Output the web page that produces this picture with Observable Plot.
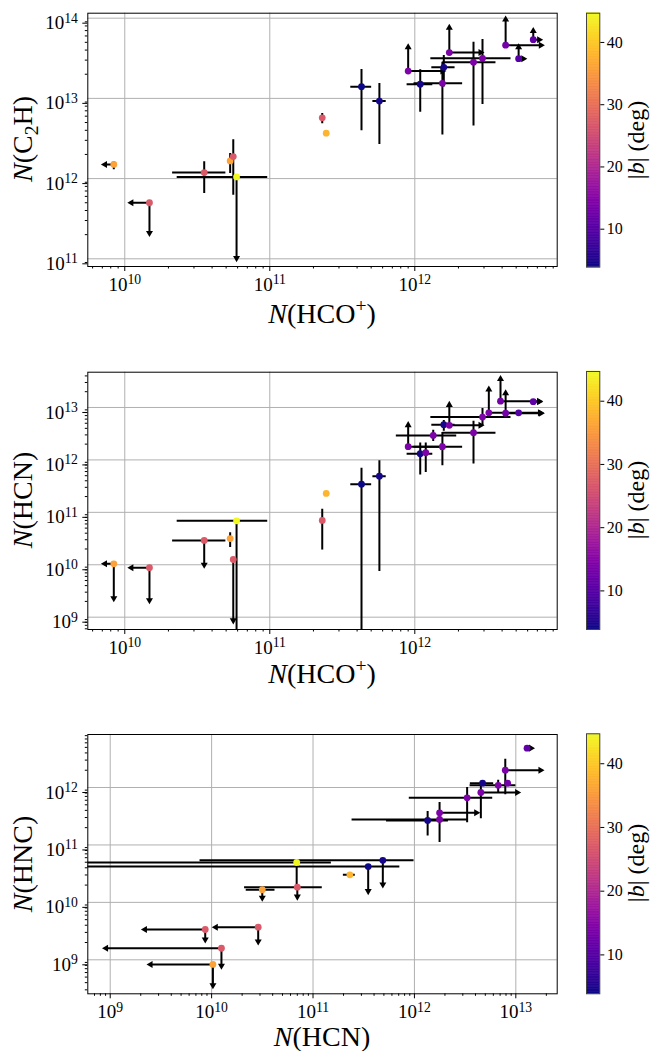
<!DOCTYPE html>
<html><head><meta charset="utf-8">
<script src="https://cdn.jsdelivr.net/npm/d3@7"></script>
<script src="https://cdn.jsdelivr.net/npm/@observablehq/plot@0.6"></script>
<style>
body{margin:0;background:#fff;}
#root{position:relative;width:650px;height:1051px;font-family:"Liberation Serif","Times New Roman",serif;overflow:hidden;}
.svgbox{position:absolute;}
.lab{position:absolute;white-space:nowrap;line-height:0.85;color:#000;}
.lab sub{font-size:0.7em;vertical-align:-0.3em;line-height:0;}
.lab sup{font-size:0.7em;vertical-align:0.55em;line-height:0;}
</style></head><body><div id="root"></div>
<script>
// |b| colour range (deg)
const bDomain = [3.9, 44.7];
const cbTicks = [10, 20, 30, 40];

// ---------- Panel 1: N(HCO+) vs N(C2H) ----------
const p1X = [8.4e9, 1.48e10, 3.53e10, 5.33e10, 5.6e10, 5.9e10, 2.30e11, 2.45e11, 4.29e11, 5.70e11, 9.0e11, 1.09e12, 1.585e12, 1.55e12, 1.73e12, 2.54e12, 2.93e12, 4.23e12, 5.2e12, 6.56e12];
const p1Y = [1.5e12, 5.0e11, 1.19e12, 1.66e12, 1.88e12, 1.05e12, 5.72e12, 3.68e12, 1.40e13, 9.25e12, 2.19e13, 1.50e13, 2.44e13, 1.54e13, 3.72e13, 2.82e13, 3.16e13, 4.6e13, 3.13e13, 5.4e13];
const p1B = [36, 27, 27, 36, 27, 44.7, 27, 38, 4, 4.5, 14, 4.5, 4.5, 14, 14, 14, 14, 13, 10, 11];
const p1XErr = [null, null, [2.12e10,4.94e10], null, null, [2.28e10,9.6e10], null, null, [3.59e11,5.0e11], [5.1e11,6.3e11], null, [8.78e11,1.32e12], [1.30e12,1.88e12], [9.8e11,2.12e12], null, [1.55e12,3.6e12], [1.28e12,4.57e12], null, null, null];
const p1YErr = [[1.31e12,1.64e12], null, [6.6e11,1.64e12], [1.17e12,2.09e12], [6.3e11,3.09e12], null, [4.9e12,6.55e12], null, [4.0e12,2.32e13], [2.7e12,1.55e13], null, [6.8e12,2.30e13], [1.41e13,3.47e13], [3.55e12,2.87e13], null, [4.6e12,5.1e13], [8.5e12,5.5e13], null, null, null];
const p1XLim = [7.3e9, 1.11e10, null, null, null, null, null, null, null, null, 1.55e12, null, null, null, 2.84e12, null, null, 7.4e12, 5.6e12, 7.2e12];
const p1YLim = [null, 2.1e11, null, null, null, 1.02e11, null, null, null, null, 4.34e13, null, null, null, 7.6e13, null, null, 9.6e13, 4.35e13, 6.9e13];

// ---------- Panel 2: N(HCO+) vs N(HCN) ----------
const p2X = [8.4e9, 1.48e10, 3.53e10, 5.33e10, 5.6e10, 5.9e10, 2.30e11, 2.45e11, 4.29e11, 5.70e11, 9.0e11, 1.09e12, 1.19e12, 1.34e12, 1.55e12, 1.585e12, 1.73e12, 2.54e12, 2.93e12, 3.24e12, 3.9e12, 4.23e12, 5.2e12, 6.56e12];
const p2Y = [1.04e10, 8.8e9, 2.91e10, 3.16e10, 1.26e10, 6.9e10, 7.0e10, 2.29e11, 3.45e11, 4.9e11, 1.79e12, 1.31e12, 1.37e12, 2.93e12, 1.79e12, 4.7e12, 4.57e12, 3.3e12, 6.56e12, 7.9e12, 1.32e13, 7.8e12, 7.9e12, 1.29e13];
const p2B = [36, 27, 27, 36, 27, 44.7, 27, 38, 4, 4.5, 14, 4.5, 14, 14, 14, 4.5, 14, 14, 14, 14, 13, 13, 10, 11];
const p2XErr = [null, null, [2.12e10,4.94e10], null, null, [2.28e10,9.6e10], null, null, [3.59e11,5.0e11], [5.1e11,6.3e11], null, [8.78e11,1.32e12], null, [7.4e11,1.93e12], [9.8e11,2.12e12], [1.30e12,1.88e12], null, [1.55e12,3.6e12], [1.28e12,4.57e12], null, null, null, null, null];
const p2YErr = [null, null, null, [2.17e10,4.17e10], null, [1e8,6.9e10], [1.95e10,1.17e11], null, [1e8,7.1e11], [7.6e9,9.8e11], null, [5.25e11,2.14e12], [5.9e11,2.14e12], [2.29e12,3.76e12], [7.9e11,3.4e12], [3.6e12,5.8e12], null, [8.5e11,5.6e12], [4.57e12,9.8e12], null, null, null, null, null];
const p2XLim = [7.3e9, 1.11e10, null, null, null, null, null, null, null, null, 1.55e12, null, null, null, null, null, 2.84e12, null, null, 7.3e12, 7.2e12, 7.4e12, null, 7.2e12];
const p2YLim = [2.3e9, 2.1e9, 1.0e10, null, 8.7e8, null, null, null, null, null, 4.6e12, null, null, null, null, null, 1.12e13, null, null, 2.2e13, 3.5e13, 1.86e13, null, null];

// ---------- Panel 3: N(HCN) vs N(HNC) ----------
const p3X = [6.9e10, 7.0e10, 3.16e10, 8.65e9, 2.88e10, 1.25e10, 1.03e10, 2.31e11, 3.5e11, 4.88e11, 1.35e12, 1.77e12, 1.77e12, 3.31e12, 4.52e12, 4.7e12, 6.7e12, 7.87e12, 8.3e12, 1.29e13];
const p3Y = [4.95e10, 1.84e10, 1.66e10, 3.37e9, 3.7e9, 1.59e9, 8.3e8, 3.02e10, 4.2e10, 5.4e10, 2.67e11, 3.63e11, 2.78e11, 6.6e11, 8.2e11, 1.19e12, 1.09e12, 2.0e12, 1.19e12, 4.85e12];
const p3B = [44.7, 27, 36, 27, 27, 27, 36, 38, 4, 4.5, 4.5, 14, 14, 14, 14, 4.5, 14, 14, 13, 11];
const p3XErr = [[1e8,1.5e11], [2.09e10,1.22e11], [2.17e10,4.17e10], null, null, null, null, [1.97e11,2.58e11], [1e8,7.1e11], [7.6e9,9.8e11], [5.25e11,2.14e12], null, [2.4e11,3.3e12], [8.8e11,5.85e12], null, [3.52e12,5.98e12], [3.5e12,9.9e12], null, null, null];
const p3YErr = [[1.87e10,4.95e10], null, null, null, null, null, null, null, null, null, [1.46e11,3.89e11], null, [1.12e11,5.6e11], [2.49e11,1.02e12], [2.93e11,1.24e12], null, [8.0e11,1.37e12], [7.6e11,3.16e12], null, null];
const p3XLim = [null, null, null, 2.2e9, 1.1e10, 9.1e8, 2.5e9, null, null, null, null, 4.07e12, null, null, 1.03e13, null, null, 1.75e13, null, 1.41e13];
const p3YLim = [null, 1.26e10, 1.2e10, 2.26e9, 2.08e9, 7.9e8, 3.6e8, null, 1.57e10, 2.05e10, null, null, null, null, null, null, null, null, null, null];

// axis domains (log10) and major ticks (exponents)
const p1XDom = [9.745, 12.982], p1YDom = [10.904, 14.062];
const p2XDom = [9.745, 12.982], p2YDom = [8.765, 13.673];
const p3XDom = [8.779, 13.408], p3YDom = [8.408, 12.923];
const p1XExp = [10, 11, 12], p1YExp = [11, 12, 13, 14];
const p2XExp = [10, 11, 12], p2YExp = [9, 10, 11, 12, 13];
const p3XExp = [9, 10, 11, 12, 13], p3YExp = [9, 10, 11, 12];

const root = document.getElementById("root");
const SVGNS = "http://www.w3.org/2000/svg";
const FONT = "'Liberation Serif', 'Times New Roman', serif";

function minorTicks(dom) {
  const out = [];
  for (let e = Math.floor(dom[0]); e <= Math.ceil(dom[1]); e++)
    for (let m = 2; m <= 9; m++) {
      const v = m * Math.pow(10, e);
      if (Math.log10(v) >= dom[0] && Math.log10(v) <= dom[1]) out.push(v);
    }
  return out;
}
function superscriptTicks(svg) {
  svg.querySelectorAll("text").forEach(t => {
    const m = /^10\|(-?\d+)$/.exec(t.textContent);
    if (m) {
      t.textContent = "10";
      const ts = document.createElementNS(SVGNS, "tspan");
      ts.setAttribute("dy", "-0.48em");
      ts.setAttribute("font-size", "0.72em");
      ts.textContent = m[1];
      t.appendChild(ts);
    }
  });
}
function place(node, left, top) {
  const w = document.createElement("div");
  w.className = "svgbox";
  w.style.left = left + "px"; w.style.top = top + "px";
  w.appendChild(node);
  root.appendChild(w);
}
function label(html, cx, cy, rot, size) {
  const d = document.createElement("div");
  d.className = "lab";
  d.innerHTML = html;
  d.style.left = cx + "px"; d.style.top = cy + "px";
  d.style.fontSize = size + "px";
  d.style.transform = "translate(-50%,-50%)" + (rot ? " rotate(-90deg)" : "");
  root.appendChild(d);
}

const FRAME_L = 87.3, FRAME_R = 556.7;
const CB_L = 586, CB_W = 13.3;

function panel(o) {
  const pts = o.X.map((x, i) => ({x, y: o.Y[i], b: o.B[i]}));
  const xe = [], ye = [], lim = [], heads = [];
  o.X.forEach((x, i) => {
    const y = o.Y[i];
    if (o.XE[i]) xe.push({x1: o.XE[i][0], x2: o.XE[i][1], y1: y, y2: y});
    if (o.YE[i]) ye.push({x1: x, x2: x, y1: o.YE[i][0], y2: o.YE[i][1]});
    if (o.XL[i] != null) { lim.push({x1: x, x2: o.XL[i], y1: y, y2: y}); heads.push({x: o.XL[i], y, rot: o.XL[i] < x ? -90 : 90}); }
    if (o.YL[i] != null) { lim.push({x1: x, x2: x, y1: y, y2: o.YL[i]}); heads.push({x, y: o.YL[i], rot: o.YL[i] < y ? 180 : 0}); }
  });
  const fmt = d => "10|" + Math.round(Math.log10(d));
  const xMaj = o.xExp.map(e => Math.pow(10, e)), yMaj = o.yExp.map(e => Math.pow(10, e));
  const svg = Plot.plot({
    width: 650, height: o.svgH,
    marginLeft: FRAME_L, marginRight: 650 - FRAME_R,
    marginTop: o.top - o.svgTop, marginBottom: o.svgTop + o.svgH - o.bottom,
    x: {type: "log", domain: o.xDom.map(v => Math.pow(10, v))},
    y: {type: "log", domain: o.yDom.map(v => Math.pow(10, v))},
    color: {type: "linear", scheme: "plasma", domain: bDomain},
    style: {fontFamily: FONT, background: "transparent", color: "black"},
    marks: [
      Plot.gridX({ticks: xMaj, stroke: "#b0b0b0", strokeOpacity: 1, strokeWidth: 1}),
      Plot.gridY({ticks: yMaj, stroke: "#b0b0b0", strokeOpacity: 1, strokeWidth: 1}),
      Plot.link(xe, {x1: "x1", x2: "x2", y1: "y1", y2: "y2", stroke: "black", strokeWidth: 2, clip: true}),
      Plot.link(ye, {x1: "x1", x2: "x2", y1: "y1", y2: "y2", stroke: "black", strokeWidth: 2, clip: true}),
      Plot.link(lim, {x1: "x1", x2: "x2", y1: "y1", y2: "y2", stroke: "black", strokeWidth: 2, clip: true}),
      Plot.dot(heads, {x: "x", y: "y", symbol: "triangle", rotate: "rot", r: 2.6, fill: "black", stroke: "none"}),
      Plot.dot(pts, {x: "x", y: "y", fill: "b", r: 3.4, stroke: "none"}),
      Plot.frame({stroke: "black", strokeWidth: 1}),
      Plot.axisX({ticks: xMaj, tickFormat: fmt, tickSize: 5, tickPadding: 6, fontSize: 19, label: null}),
      Plot.axisX({ticks: minorTicks(o.xDom), tickFormat: () => "", tickSize: 2.5, label: null}),
      Plot.axisY({ticks: yMaj, tickFormat: fmt, tickSize: 5, tickPadding: 5, fontSize: 19, dy: 5, label: null}),
      Plot.axisY({ticks: minorTicks(o.yDom), tickFormat: () => "", tickSize: 2.5, label: null})
    ]
  });
  superscriptTicks(svg);
  place(svg, 0, o.svgTop);

  // colour bar
  const N = 160;
  const cells = d3.range(N).map(i => {
    const v0 = bDomain[0] + (bDomain[1] - bDomain[0]) * i / N;
    const v1 = bDomain[0] + (bDomain[1] - bDomain[0]) * (i + 1) / N;
    return {v0, v1, v: (v0 + v1) / 2};
  });
  const cb = Plot.plot({
    width: CB_W + 40, height: o.svgH,
    marginLeft: 0, marginRight: 40,
    marginTop: o.cbTop - o.svgTop, marginBottom: o.svgTop + o.svgH - o.cbBottom,
    x: {domain: [0, 1], axis: null},
    y: {domain: bDomain, axis: null},
    color: {type: "linear", scheme: "plasma", domain: bDomain},
    style: {fontFamily: FONT, background: "transparent", color: "black"},
    marks: [
      Plot.rect(cells, {x1: () => 0, x2: () => 1, y1: "v0", y2: "v1", fill: "v", stroke: "v", strokeWidth: 0.6}),
      Plot.frame({stroke: "#444", strokeWidth: 1}),
      Plot.axisY({ticks: cbTicks, anchor: "right", tickSize: 4, tickPadding: 3, fontSize: 16, label: null})
    ]
  });
  place(cb, CB_L, o.svgTop);

  label(o.xLabel, (FRAME_L + FRAME_R) / 2, o.xLabY, false, 28);
  label(o.yLabel, 23, (o.top + o.bottom) / 2, true, 28);
  label("|<i>b</i>|&nbsp;(deg)", 636, (o.cbTop + o.cbBottom) / 2, true, 24);
}

panel({X: p1X, Y: p1Y, B: p1B, XE: p1XErr, YE: p1YErr, XL: p1XLim, YL: p1YLim,
  xDom: p1XDom, yDom: p1YDom, xExp: p1XExp, yExp: p1YExp,
  svgTop: 0, svgH: 300, top: 12.7, bottom: 266, cbTop: 12.7, cbBottom: 266.7,
  xLabel: "<i>N</i>(HCO<sup>+</sup>)", yLabel: "<i>N</i>(C<sub>2</sub>H)", xLabY: 314});
panel({X: p2X, Y: p2Y, B: p2B, XE: p2XErr, YE: p2YErr, XL: p2XLim, YL: p2YLim,
  xDom: p2XDom, yDom: p2YDom, xExp: p2XExp, yExp: p2YExp,
  svgTop: 340, svgH: 320, top: 371.7, bottom: 629, cbTop: 371, cbBottom: 629,
  xLabel: "<i>N</i>(HCO<sup>+</sup>)", yLabel: "<i>N</i>(HCN)", xLabY: 674});
panel({X: p3X, Y: p3Y, B: p3B, XE: p3XErr, YE: p3YErr, XL: p3XLim, YL: p3YLim,
  xDom: p3XDom, yDom: p3YDom, xExp: p3XExp, yExp: p3YExp,
  svgTop: 700, svgH: 330, top: 734, bottom: 993.3, cbTop: 733.3, cbBottom: 993.3,
  xLabel: "<i>N</i>(HCN)", yLabel: "<i>N</i>(HNC)", xLabY: 1037});
</script></body></html>
